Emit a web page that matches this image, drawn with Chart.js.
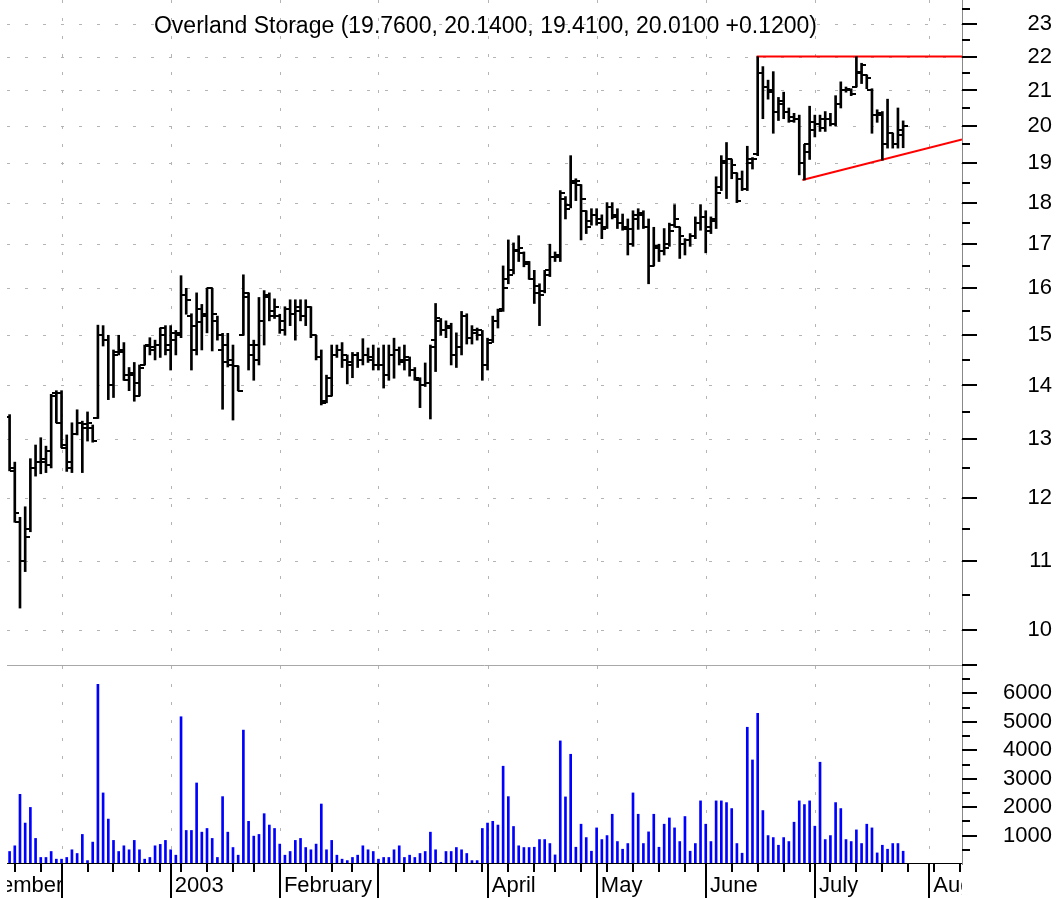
<!DOCTYPE html>
<html>
<head>
<meta charset="utf-8">
<script src="https://cdn.jsdelivr.net/npm/chart.js@4.4.1/dist/chart.umd.min.js"></script>
<style>
  html, body { margin: 0; padding: 0; background: #fff; }
  canvas { display: block; }
</style>
</head>
<body>
<canvas id="chart" width="1061" height="898"></canvas>
<script>
// ===== Data: daily bars, Nov 14 2002 .. Jul 24 2003 (index = trading day) =====
const opens = [
  13.4, 12.45, 11.6, 11.0, 11.5, 12.5, 12.6, 12.6, 12.55, 13.85, 13.85,
  12.9, 12.5, 13.1, 13.3, 13.2, 13.2, 13.38, 15.0, 14.9, 14.0, 14.66, 14.7, 14.2, 14.2, 13.8, 14.4, 14.8, 14.75, 14.8, 15.0, 14.8,
  14.9, 15.0, 15.85, 15.4, 14.7, 15.55, 15.4, 16.0, 15.3, 14.7, 14.8, 14.5, 14.38, 15.0, 15.9, 14.6, 14.5, 15.3, 15.8, 15.5, 15.4,
  15.3, 15.55, 15.45, 15.5, 15.4, 15.6, 15.0, 14.55, 13.7, 13.8, 14.6, 14.7, 14.5, 14.4, 14.6, 14.5, 14.6, 14.5, 14.4,
  14.4, 14.2, 14.6, 14.7, 14.5, 14.5, 14.3, 14.1, 14.0, 14.04, 14.9, 15.3, 15.1, 15.2, 14.6, 14.75, 15.4, 14.95, 15.05, 15.0, 14.4,
  14.9, 15.3, 15.55, 16.2, 16.4, 16.85, 16.8, 16.6, 16.2, 16.05, 15.95, 16.4, 16.7, 16.7, 18.1, 17.95, 18.55, 18.45, 17.8, 17.55, 17.7,
  17.6, 17.4, 17.9, 17.7, 17.5, 17.35, 17.0, 17.6, 17.75, 17.4, 16.5, 16.9, 16.85, 17.0, 17.45, 17.4, 17.0, 17.1, 17.2, 17.5, 17.65,
  17.4, 17.6, 18.4, 19.05, 19.1, 18.75, 18.6, 18.35, 19.0, 19.25, 21.5, 21.1, 21.0, 20.4, 20.6, 20.4, 20.25, 20.2, 19.0, 19.3, 19.9,
  20.05, 19.95, 20.2, 20.05, 20.6, 21.0, 21.0, 21.1, 21.55, 21.45, 21.0, 20.3, 20.3, 19.5, 19.8, 19.5, 19.76
];
const highs = [
  13.45, 12.6, 11.68, 11.85, 12.66, 12.9, 13.03, 12.88, 13.83, 13.9, 13.9,
  13.08, 13.3, 13.54, 13.33, 13.5, 13.26, 15.21, 15.2, 15.0, 14.7, 15.0, 14.85, 14.35, 14.45, 14.4, 14.8, 14.95, 14.9, 15.15, 15.2, 15.2,
  15.1, 16.28, 16.0, 15.45, 15.9, 15.65, 16.0, 16.0, 15.4, 15.04, 15.04, 14.8, 14.38, 16.3, 15.9, 14.9, 15.8, 15.95, 15.9, 15.77, 15.44,
  15.6, 15.75, 15.75, 15.75, 15.75, 15.6, 15.0, 14.7, 14.2, 14.8, 14.8, 14.85, 14.6, 14.65, 14.65, 14.93, 14.74, 14.8, 14.74,
  14.8, 14.8, 14.94, 14.76, 14.8, 14.56, 14.35, 14.15, 14.44, 14.8, 15.67, 15.35, 15.3, 15.25, 15.05, 15.5, 15.45, 15.2, 15.15, 15.1, 14.94,
  15.4, 15.55, 16.5, 17.1, 17.03, 17.2, 16.82, 16.6, 16.4, 16.1, 16.4, 17.0, 16.82, 18.3, 18.15, 19.2, 18.6, 18.45, 17.8, 17.85, 17.85,
  17.7, 18.0, 18.0, 17.85, 17.72, 17.6, 17.8, 17.85, 17.8, 17.6, 17.4, 17.0, 17.37, 17.5, 17.95, 17.4, 17.13, 17.25, 17.65, 17.95, 17.8,
  17.65, 18.65, 19.2, 19.55, 19.1, 18.75, 18.8, 19.45, 19.15, 22.0, 21.7, 21.3, 21.55, 20.8, 20.95, 20.5, 20.35, 20.3, 19.5, 20.55, 20.3,
  20.3, 20.4, 20.35, 20.85, 21.25, 21.1, 21.05, 22.0, 21.8, 21.45, 21.05, 20.45, 20.4, 20.75, 19.8, 20.5, 20.14
];
const lows = [
  12.45, 11.6, 10.31, 10.84, 11.45, 12.36, 12.4, 12.42, 12.5, 13.3, 12.85,
  12.44, 12.42, 13.08, 12.42, 12.97, 12.95, 13.38, 14.78, 13.73, 13.77, 14.6, 14.1, 13.9, 13.7, 13.8, 14.4, 14.6, 14.5, 14.55, 14.6, 14.3,
  14.6, 14.95, 15.44, 14.3, 14.6, 14.7, 15.05, 14.68, 14.9, 13.55, 14.36, 13.35, 13.9, 15.0, 14.3, 14.1, 14.4, 14.8, 15.3, 15.35, 15.04,
  15.0, 15.2, 14.9, 15.3, 15.2, 14.95, 14.5, 13.63, 13.67, 13.8, 14.55, 14.35, 14.03, 14.15, 14.35, 14.4, 14.45, 14.3, 14.3,
  13.95, 14.1, 14.14, 14.4, 14.3, 14.18, 14.1, 13.58, 13.98, 13.37, 14.27, 15.0, 14.95, 14.4, 14.35, 14.6, 14.82, 14.82, 14.9, 14.1, 14.3,
  14.85, 15.15, 15.5, 16.1, 16.32, 16.6, 16.48, 16.2, 15.67, 15.2, 15.9, 16.26, 16.6, 16.6, 17.6, 17.87, 18.05, 17.1, 17.25, 17.45, 17.45,
  17.13, 17.37, 17.6, 17.37, 17.33, 16.75, 16.95, 17.35, 17.37, 16.1, 16.5, 16.6, 16.75, 16.95, 17.4, 16.67, 16.75, 16.95, 17.13, 17.33, 16.8,
  17.25, 17.37, 18.3, 18.1, 18.6, 18.0, 18.3, 18.3, 18.85, 19.2, 20.2, 20.75, 19.8, 20.15, 20.2, 20.1, 20.1, 18.7, 18.57, 19.1, 19.7,
  19.85, 19.85, 20.0, 20.0, 20.5, 20.95, 20.85, 21.1, 21.2, 21.05, 19.8, 20.1, 19.08, 19.4, 19.4, 19.4, 19.41
];
const closes = [
  12.5, 11.75, 11.0, 11.37, 12.5, 12.6, 12.65, 12.8, 13.8, 13.3, 12.85,
  12.6, 13.1, 13.3, 13.28, 13.3, 12.97, 15.0, 14.9, 14.0, 14.6, 14.66, 14.1, 14.25, 14.05, 14.35, 14.78, 14.7, 14.8, 15.15, 14.7, 15.05,
  15.05, 15.85, 15.75, 15.2, 15.27, 15.45, 16.0, 15.44, 15.0, 14.45, 14.4, 14.38, 13.9, 15.8, 14.8, 14.8, 15.3, 15.85, 15.4, 15.6, 15.1,
  15.55, 15.45, 15.6, 15.4, 15.6, 15.0, 14.55, 13.67, 14.15, 14.6, 14.7, 14.6, 14.45, 14.6, 14.5, 14.6, 14.55, 14.4, 14.4,
  14.2, 14.6, 14.7, 14.45, 14.55, 14.3, 14.15, 14.0, 14.05, 14.77, 15.35, 15.1, 15.15, 14.6, 14.75, 15.4, 14.95, 15.1, 15.1, 14.4, 14.85,
  15.3, 15.5, 16.0, 16.3, 16.87, 16.9, 16.55, 16.2, 15.9, 15.85, 16.3, 16.7, 16.75, 18.25, 17.85, 18.5, 18.55, 18.1, 17.4, 17.7, 17.5,
  17.35, 17.9, 17.65, 17.5, 17.4, 17.35, 17.7, 17.7, 17.4, 16.5, 16.95, 16.85, 16.9, 17.3, 17.6, 17.2, 17.1, 17.2, 17.5, 17.65, 17.3,
  17.55, 18.25, 19.0, 19.1, 18.95, 18.05, 18.35, 19.1, 19.1, 21.5, 21.1, 20.95, 20.4, 20.7, 20.4, 20.15, 20.2, 19.0, 19.5, 20.1, 20.05,
  20.2, 20.2, 20.05, 20.6, 21.0, 21.05, 20.9, 21.5, 21.75, 21.35, 20.3, 20.35, 19.5, 19.8, 19.5, 19.89, 20.01
];
const volumes = [
  440, 640, 2450, 1440, 1990, 900, 230, 230, 440, 170, 170,
  230, 500, 370, 1040, 120, 770, 6320, 2500, 1580, 830, 440, 640, 500, 830, 500, 170, 230, 640, 690, 830, 500,
  310, 5180, 1180, 1180, 2850, 1120, 1250, 900, 230, 2370, 1120, 580, 310, 4710, 1500, 980, 1040, 1770, 1370, 1250, 700,
  310, 440, 830, 900, 580, 500, 700, 2110, 500, 830, 310, 170, 120, 230, 310, 640, 500, 440, 170,
  230, 230, 500, 640, 230, 310, 230, 370, 440, 1120, 500, 60, 440, 440, 580, 500, 370, 120, 120, 1250, 1440,
  1500, 1370, 3440, 2370, 1320, 640, 580, 580, 590, 860, 860, 720, 320, 4330, 2360, 3860, 590, 1400, 930, 450, 1270,
  860, 1000, 1750, 790, 520, 720, 2500, 1750, 720, 1130, 1750, 590, 1400, 1620, 1270, 790, 1670, 450, 720, 2220, 1400,
  790, 2220, 2220, 2160, 1950, 720, 380, 4810, 3660, 5300, 1880, 1000, 930, 660, 930, 790, 1470, 2220, 2090, 2220, 1330,
  3580, 860, 1000, 2160, 1950, 860, 790, 1200, 720, 1400, 1270, 390, 660, 520, 720, 720, 450
];

// trend lines drawn on the chart: [index, price]
const resistance = [[143.8, 22.0], [183.33, 22.0]];
const support = [[152.6, 18.57], [183.33, 19.63]];

// axis layout values
const priceTicks = [10, 11, 12, 13, 14, 15, 16, 17, 18, 19, 20, 21, 22, 23];
const volumeTicks = [1000, 2000, 3000, 4000, 5000, 6000];
const monthLabels = ["November", "2003", "February", "April", "May", "June", "July", "August"];
const monthFirstIdx = [-9, 32, 53, 93, 114, 135, 156, 178];
const monthEndIdx = [10, 31, 52, 71, 92, 113, 134, 155, 177];
const weekEndIdx = [1, 6, 10, 15, 20, 25, 29, 33, 38, 43, 47, 52, 57, 62, 66, 71, 76, 81, 86, 91,
  96, 101, 105, 110, 115, 120, 125, 130, 134, 139, 144, 149, 154, 158, 163, 168, 173, 178, 183];

const FONT = "'Liberation Sans', Arial, sans-serif";
Chart.defaults.font.family = FONT;

const last = opens.length - 1;
const change = closes[last] - closes[last - 1];
const titleText = "Overland Storage (" + opens[last].toFixed(4) + ", " + highs[last].toFixed(4) + ", " +
  lows[last].toFixed(4) + ", " + closes[last].toFixed(4) + " " + (change >= 0 ? "+" : "") + change.toFixed(4) + ")";

// open tick to the left, close tick to the right
function tickMark(side) {
  const c = document.createElement("canvas");
  c.width = 9; c.height = 2;
  const g = c.getContext("2d");
  g.fillStyle = "#000";
  if (side === "left") g.fillRect(0, 0, 5, 2); else g.fillRect(4, 0, 5, 2);
  return c;
}

const idx = opens.map((_, i) => i);

const decor = {
  id: "decor",
  beforeDatasetsDraw(chart) {
    const { ctx, chartArea: a, scales: { x, price } } = chart;
    ctx.save();
    ctx.strokeStyle = "#b4b4b4";
    ctx.lineWidth = 1;
    ctx.setLineDash([3, 15]);
    priceTicks.forEach(v => {
      const y = Math.round(price.getPixelForValue(v)) + 0.5;
      ctx.beginPath(); ctx.moveTo(a.left, y); ctx.lineTo(a.right, y); ctx.stroke();
    });
    monthEndIdx.forEach(i => {
      const px = Math.round(x.getPixelForValue(i)) + 0.5;
      ctx.beginPath(); ctx.moveTo(px, a.top); ctx.lineTo(px, a.bottom); ctx.stroke();
    });
    ctx.setLineDash([]);
    ctx.strokeStyle = "#a8a8a8";
    const sy = Math.round(price.bottom) + 0.5;
    ctx.beginPath(); ctx.moveTo(a.left, sy); ctx.lineTo(a.right, sy); ctx.stroke();

    ctx.fillStyle = "#000";
    ctx.font = "23px " + FONT;
    ctx.textAlign = "center";
    ctx.textBaseline = "alphabetic";
    ctx.fillText(titleText, 485.5, 33);
    ctx.restore();
  },
  afterDatasetsDraw(chart) {
    const { ctx, chartArea: a, scales: { x, price, vol } } = chart;
    ctx.save();
    ctx.fillStyle = "#000";
    // volume baseline
    ctx.fillRect(a.left, a.bottom - 1, a.right - a.left, 1);
    // week and month marks under the volume pane
    weekEndIdx.forEach(i => {
      const px = x.getPixelForValue(i);
      if (px < a.left || px > a.right) return;
      ctx.fillRect(Math.round(px) - 1, a.bottom, 2, 8);
    });
    monthEndIdx.forEach(i => {
      const px = x.getPixelForValue(i);
      ctx.fillRect(Math.round(px) - 1, a.bottom, 2, chart.height - a.bottom);
    });
    // month labels, clipped to the plot width
    ctx.save();
    ctx.beginPath();
    ctx.rect(a.left, a.bottom, a.right - a.left, chart.height - a.bottom);
    ctx.clip();
    ctx.font = "22px " + FONT;
    ctx.textAlign = "left";
    ctx.textBaseline = "alphabetic";
    monthLabels.forEach((lab, k) => {
      ctx.fillText(lab, x.getPixelForValue(monthFirstIdx[k]) - 1, 892);
    });
    ctx.restore();
    // right axis tick marks
    for (let v = 10; v <= 23.5; v += 0.5) {
      const y = Math.round(price.getPixelForValue(v));
      const len = Number.isInteger(v) ? 15 : 8;
      ctx.fillRect(a.right, y - 1, len, 2);
    }
    for (let v = 500; v <= 7000; v += 500) {
      const y = Math.round(vol.getPixelForValue(v));
      const len = v % 1000 === 0 ? 15 : 8;
      ctx.fillRect(a.right, y - 1, len, 2);
    }
    ctx.restore();
  }
};

// fixed-width right axes, no extra label padding at the pane edges
function fitAxis(s) {
  s.width = 90;
  s.paddingTop = 0;
  s.paddingBottom = 0;
}

const axisCommon = {
  position: "right",
  stack: "panes",
  afterFit: fitAxis,
  grid: { display: false, drawTicks: false, tickLength: 0 },
  border: { display: true, color: "#888", width: 1 }
};

new Chart(document.getElementById("chart"), {
  type: "bar",
  data: {
    datasets: [
      {
        type: "bar",
        label: "Range",
        yAxisID: "price",
        data: idx.map(i => ({ x: i, y: [lows[i], highs[i]] })),
        backgroundColor: "#000",
        borderWidth: 0,
        barThickness: 2,
        grouped: false
      },
      {
        type: "line",
        label: "Open",
        yAxisID: "price",
        data: idx.map(i => ({ x: i, y: opens[i] })),
        showLine: false,
        pointStyle: tickMark("left"),
        pointRadius: 3,
        pointHoverRadius: 3
      },
      {
        type: "line",
        label: "Close",
        yAxisID: "price",
        data: idx.map(i => ({ x: i, y: closes[i] })),
        showLine: false,
        pointStyle: tickMark("right"),
        pointRadius: 3,
        pointHoverRadius: 3
      },
      {
        type: "line",
        label: "Resistance",
        yAxisID: "price",
        data: resistance.map(p => ({ x: p[0], y: p[1] })),
        borderColor: "#ff0000",
        borderWidth: 2,
        pointRadius: 0,
        tension: 0
      },
      {
        type: "line",
        label: "Support",
        yAxisID: "price",
        data: support.map(p => ({ x: p[0], y: p[1] })),
        borderColor: "#ff0000",
        borderWidth: 2,
        pointRadius: 0,
        tension: 0
      },
      {
        type: "bar",
        label: "Volume",
        yAxisID: "vol",
        data: idx.map(i => ({ x: i, y: volumes[i] })),
        backgroundColor: "#0000ff",
        borderWidth: 0,
        barThickness: 2,
        grouped: false
      }
    ]
  },
  options: {
    responsive: false,
    animation: false,
    events: [],
    layout: { autoPadding: false, padding: { left: 7, right: 9, top: 0, bottom: 34 } },
    plugins: {
      legend: { display: false },
      tooltip: { enabled: false }
    },
    scales: {
      x: {
        type: "linear",
        min: -0.5,
        max: 183.33,
        offset: false,
        display: false
      },
      price: {
        ...axisCommon,
        type: "logarithmic",
        stackWeight: 665,
        min: 9.534,
        max: 23.78,
        afterBuildTicks: s => { s.ticks = priceTicks.map(v => ({ value: v })); },
        ticks: {
          autoSkip: false,
          crossAlign: "far",
          padding: 0,
          color: "#000",
          font: { size: 22 },
          callback: v => String(v)
        }
      },
      vol: {
        ...axisCommon,
        type: "linear",
        stackWeight: 199,
        min: 0,
        max: 7000,
        afterBuildTicks: s => { s.ticks = volumeTicks.map(v => ({ value: v })); },
        ticks: {
          autoSkip: false,
          crossAlign: "far",
          padding: 0,
          color: "#000",
          font: { size: 22 },
          callback: v => String(v)
        }
      }
    }
  },
  plugins: [decor]
});
</script>
</body>
</html>
